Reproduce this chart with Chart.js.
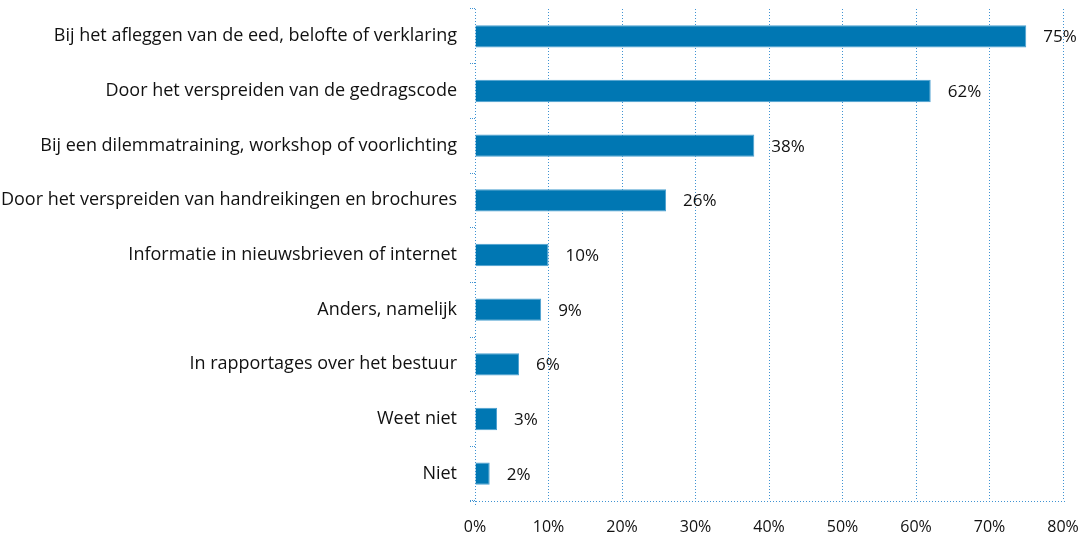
<!DOCTYPE html>
<html>
<head>
<meta charset="utf-8">
<script src="https://cdn.jsdelivr.net/npm/chart.js@4/dist/chart.umd.min.js"></script>
<style>
html,body{margin:0;padding:0;background:#fff;}
#wrap{width:1085px;height:537px;position:relative;}
</style>
</head>
<body>
<div id="wrap"><canvas id="c" width="1085" height="537"></canvas></div>
<script>
const categories = [
  "Bij het afleggen van de eed, belofte of verklaring",
  "Door het verspreiden van de gedragscode",
  "Bij een dilemmatraining, workshop of voorlichting",
  "Door het verspreiden van handreikingen en brochures",
  "Informatie in nieuwsbrieven of internet",
  "Anders, namelijk",
  "In rapportages over het bestuur",
  "Weet niet",
  "Niet"
];
const values = [75, 62, 38, 26, 10, 9, 6, 3, 2];
const xTicks = [0, 10, 20, 30, 40, 50, 60, 70, 80];

const FONT = "'Open Sans', sans-serif";
const GRID = '#3f93d2';

const labelPlugin = {
  id: 'valueLabels',
  afterDatasetsDraw(chart) {
    const ctx = chart.ctx;
    const meta = chart.getDatasetMeta(0);
    ctx.save();
    ctx.font = "17px " + FONT;
    ctx.fillStyle = "#111";
    ctx.textBaseline = "middle";
    ctx.textAlign = "left";
    meta.data.forEach((bar, i) => {
      ctx.fillText(values[i] + "%", bar.x + 17, bar.y + 1);
    });
    ctx.restore();
  }
};

const axisLines = {
  id: 'axisLines',
  afterDatasetsDraw(chart) {
    const {ctx, chartArea: a} = chart;
    ctx.save();
    ctx.strokeStyle = GRID;
    ctx.lineWidth = 1;
    ctx.setLineDash([1, 2]);
    ctx.beginPath();
    ctx.moveTo(a.left - 5, Math.round(a.bottom) + 0.5);
    ctx.lineTo(a.right + 2, Math.round(a.bottom) + 0.5);
    ctx.stroke();
    ctx.beginPath();
    ctx.moveTo(Math.round(a.left) + 0.5, a.top);
    ctx.lineTo(Math.round(a.left) + 0.5, a.bottom + 5);
    ctx.stroke();
    ctx.restore();
  }
};

new Chart(document.getElementById('c'), {
  type: 'bar',
  data: {
    labels: categories,
    datasets: [{
      data: values,
      backgroundColor: '#0077b3',
      borderColor: '#4a9fd0',
      borderWidth: 1,
      barPercentage: 0.41,
      categoryPercentage: 1.0
    }]
  },
  options: {
    indexAxis: 'y',
    responsive: false,
    animation: false,
    layout: { padding: { top: 9, right: 22, left: 0, bottom: 0 } },
    plugins: { legend: { display: false }, tooltip: { enabled: false } },
    scales: {
      x: {
        min: 0, max: 80,
        afterBuildTicks(scale) { scale.ticks = xTicks.map(v => ({ value: v })); },
        afterFit(scale) { scale.height = 36; scale.paddingLeft = 0; scale.paddingRight = 0; },
        ticks: {
          callback: v => v + '%',
          color: '#111',
          font: { family: FONT, size: 16 },
          padding: 17,
          maxRotation: 0
        },
        grid: {
          color: GRID,
          lineWidth: 1,
          drawTicks: false,
          tickLength: 0
        },
        border: { display: false, dash: [1, 2] }
      },
      y: {
        afterFit(scale) { scale.width = 475; scale.paddingTop = 0; scale.paddingBottom = 0; },
        ticks: {
          color: '#111',
          font: { family: FONT, size: 18 },
          padding: 13
        },
        grid: {
          drawOnChartArea: false,
          drawTicks: true,
          tickLength: 5,
          color: GRID,
          tickBorderDash: [1, 1],
          offset: true
        },
        border: { display: false }
      }
    }
  },
  plugins: [labelPlugin, axisLines]
});
</script>
</body>
</html>
